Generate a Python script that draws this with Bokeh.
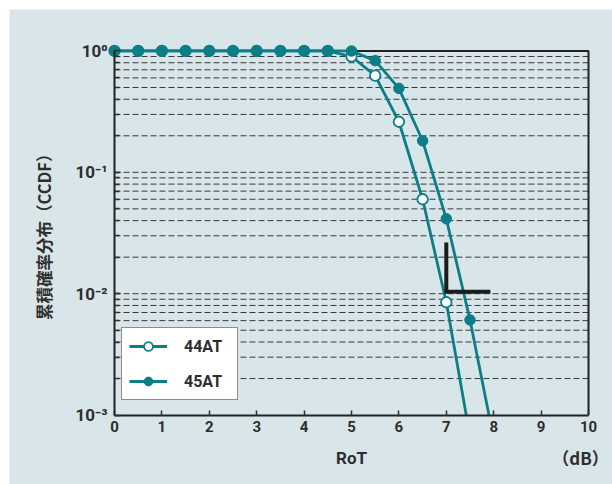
from bokeh.plotting import figure
from bokeh.models import (Range1d, FixedTicker, Label, Legend, LegendItem, LinearAxis, LogAxis,
                          CustomJSTickFormatter)
from bokeh.embed import file_html
from bokeh.resources import INLINE

# ---- data ----
rot_44 = [0, 0.5, 1, 1.5, 2, 2.5, 3, 3.5, 4, 4.5, 5, 5.5, 6, 6.5, 7]
ccdf_44 = [1, 1, 1, 1, 1, 1, 1, 1, 1, 1, 0.90, 0.626, 0.261, 0.060, 0.0085]
rot_45 = [0, 0.5, 1, 1.5, 2, 2.5, 3, 3.5, 4, 4.5, 5, 5.5, 6, 6.5, 7, 7.5]
ccdf_45 = [1, 1, 1, 1, 1, 1, 1, 1, 1, 1, 1, 0.832, 0.492, 0.182, 0.0414, 0.00608]
# where each curve leaves the plot at the bottom (10^-3)
end_44 = (7.42, 0.001)
end_45 = (7.90, 0.001)

x_ticks = [0, 1, 2, 3, 4, 5, 6, 7, 8, 9, 10]
y_major = [1, 0.1, 0.01, 0.001]
y_labels = ["10\u2070", "10\u207b\u00b9", "10\u207b\u00b2", "10\u207b\u00b3"]
series_names = ["44AT", "45AT"]

# "L" mark annotation
mark_x = [7.0, 7.0, 7.93]
mark_y = [0.0264, 0.0104, 0.0104]

TEAL = "#0b7e87"
BG = "#d8e5e9"
INK = "#2e2e2e"
FONT = "Roboto"

# plot box: x 0..10 -> px 114..588 ; y 1..1e-3 -> px 50..414.5 ; frame = (9,9)-(612,484)
p = figure(width=612, height=484, output_backend="svg", toolbar_location=None,
           y_axis_type="log", x_axis_location=None, y_axis_location=None,
           x_range=Range1d(-2.215, 10.506), y_range=Range1d(10 ** -3.572, 10 ** 0.3416),
           min_border_left=9, min_border_top=9, min_border_right=0, min_border_bottom=0)
p.background_fill_color = BG
p.border_fill_color = "white"
p.outline_line_color = None
p.grid.visible = False

grid_vals = [m * 10.0 ** k for k in (-3, -2, -1) for m in range(1, 10)][1:]

# x axis drawn along y = 1e-3
xa = LinearAxis(fixed_location=0.001, bounds=(0, 10), ticker=FixedTicker(ticks=x_ticks))
xa.axis_line_color = "#222222"
xa.axis_line_width = 2
xa.major_tick_in = 5
xa.major_tick_out = 0
xa.minor_tick_line_color = None
xa.major_tick_line_color = INK
xa.major_tick_line_width = 1.5
xa.major_label_text_font = FONT
xa.major_label_text_font_style = "bold"
xa.major_label_text_font_size = "15px"
xa.major_label_text_color = INK
xa.major_label_standoff = 6
p.add_layout(xa, "below")

# y axis drawn along x = 0
ya = LogAxis(fixed_location=0, bounds=(0.001, 1),
             ticker=FixedTicker(ticks=y_major, minor_ticks=grid_vals),
             formatter=CustomJSTickFormatter(args=dict(yvals=y_major, ytexts=y_labels), code="""
                 let best = 0, bd = 1e9;
                 for (let i = 0; i < yvals.length; i++) {
                     const d = Math.abs(Math.log10(tick) - Math.log10(yvals[i]));
                     if (d < bd) { bd = d; best = i; }
                 }
                 return ytexts[best];
             """))
ya.axis_line_color = "#222222"
ya.axis_line_width = 2
ya.major_tick_in = 6
ya.major_tick_out = 0
ya.minor_tick_in = 5
ya.minor_tick_out = 0
ya.major_tick_line_color = INK
ya.minor_tick_line_color = INK
ya.major_tick_line_width = 1.3
ya.minor_tick_line_width = 1.3
ya.major_label_text_font = FONT
ya.major_label_text_font_style = "bold"
ya.major_label_text_font_size = "17px"
ya.major_label_text_color = INK
ya.major_label_standoff = 7
p.add_layout(ya, "left")

# dashed horizontal grid at every 1..9 x 10^k
p.segment(x0=[0] * len(grid_vals), x1=[10] * len(grid_vals), y0=grid_vals, y1=grid_vals,
          line_color="#3a3a3a", line_width=1, line_dash="6 3")

# top and right sides of the box
p.line(x=[0, 10, 10], y=[1, 1, 0.001], line_color="#222222", line_width=2)

# series
l44 = p.line(x=rot_44 + [end_44[0]], y=ccdf_44 + [end_44[1]], line_color=TEAL, line_width=2.8)
s44 = p.scatter(x=rot_44, y=ccdf_44, size=10.5, fill_color="white", line_color=TEAL, line_width=1.8)
l45 = p.line(x=rot_45 + [end_45[0]], y=ccdf_45 + [end_45[1]], line_color=TEAL, line_width=2.8)
s45 = p.scatter(x=rot_45, y=ccdf_45, size=10.5, fill_color=TEAL, line_color=TEAL, line_width=1)

# L mark
p.line(x=mark_x, y=mark_y, line_color="#1c1c1c", line_width=4, line_join="miter")

legend = Legend(items=[LegendItem(label=series_names[0], renderers=[l44, s44]),
                       LegendItem(label=series_names[1], renderers=[l45, s45])],
                location=(112, 84), margin=0, padding=7, spacing=13,
                glyph_width=38, glyph_height=22, label_height=22, label_width=46,
                label_standoff=17,
                label_text_font=FONT, label_text_font_style="bold",
                label_text_font_size="16px", label_text_color=INK,
                border_line_color="#1a1a1a", border_line_width=1.5,
                background_fill_color="white", background_fill_alpha=1)
p.add_layout(legend)

# axis titles
p.add_layout(Label(x=-1.477, y=10 ** -1.498, angle=1.5707963,
                   text="累積確率分布（CCDF）", text_align="center", text_baseline="middle",
                   text_font="Noto Sans CJK JP", text_font_style="bold", text_font_size="16.5px",
                   text_color=INK))
p.add_layout(Label(x=5.0, y=10 ** -3.35, text="RoT",
                   text_align="center", text_baseline="middle", text_font=FONT,
                   text_font_style="bold", text_font_size="17px", text_color=INK))
p.add_layout(Label(x=9.83, y=10 ** -3.35, text="（dB）",
                   text_align="center", text_baseline="middle", text_font="Noto Sans CJK JP",
                   text_font_style="bold", text_font_size="17px", text_color=INK))

open("out.html", "w").write(file_html(p, INLINE))
